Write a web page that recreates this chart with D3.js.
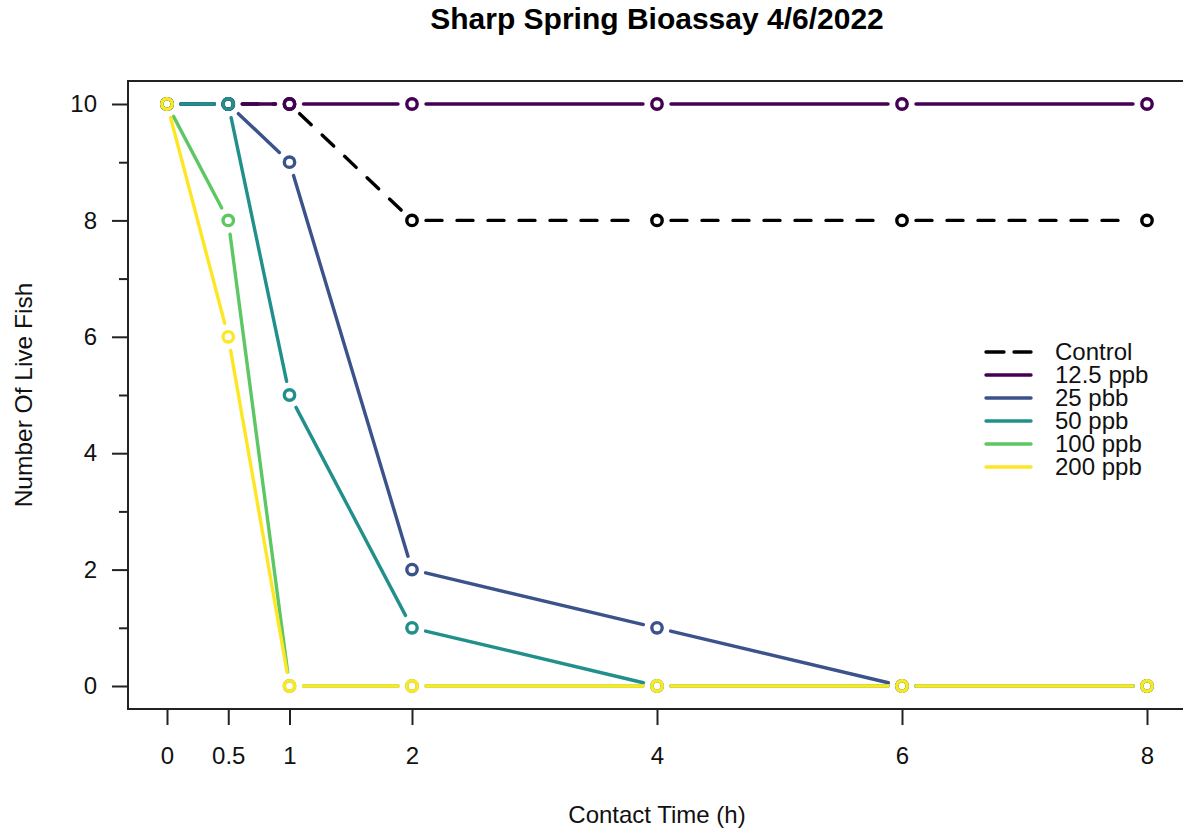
<!DOCTYPE html>
<html>
<head>
<meta charset="utf-8">
<script src="https://d3js.org/d3.v7.min.js"></script>
<style>
  body { margin: 0; background: #fff; }
  svg { display: block; font-family: "Liberation Sans", Arial, sans-serif; }
</style>
</head>
<body>
<div id="chart"></div>
<script>
var svgWidth = 1183;
var svgHeight = 833;

// data
var times = [0, 0.5, 1, 2, 4, 6, 8];
var seriesNames = ["Control", "12.5 ppb", "25 pbb", "50 ppb", "100 ppb", "200 ppb"];
var control = [10, 10, 10, 8, 8, 8, 8];
var ppb12 = [10, 10, 10, 10, 10, 10, 10];
var ppb25 = [10, 10, 9, 2, 1, 0, 0];
var ppb50 = [10, 10, 5, 1, 0, 0, 0];
var ppb100 = [10, 8, 0, 0, 0, 0, 0];
var ppb200 = [10, 6, 0, 0, 0, 0, 0];
var seriesValues = [control, ppb12, ppb25, ppb50, ppb100, ppb200];
var seriesColors = ["#000000", "#440154", "#3B528B", "#21908C", "#5DC863", "#FDE725"];
var yMajorTicks = [0, 2, 4, 6, 8, 10];
var yMinorTicks = [1, 3, 5, 7, 9];

var plot = {left: 128, top: 81, right: 1192, bottom: 709};

var svg = d3.select("#chart")
    .append("svg")
    .attr("width", svgWidth)
    .attr("height", svgHeight);

var xScale = d3.scaleLinear().domain([0, 8]).range([167, 1147]);
var yScale = d3.scaleLinear().domain([0, 10]).range([686, 104]);

// title
svg.append("text")
    .attr("x", 657)
    .attr("y", 29)
    .attr("text-anchor", "middle")
    .attr("font-size", 30)
    .attr("font-weight", "bold")
    .text("Sharp Spring Bioassay 4/6/2022");

// axes
var xAxis = svg.append("g")
    .attr("transform", `translate(0, ${plot.bottom})`)
    .call(d3.axisBottom(xScale).tickValues(times).tickSize(16).tickPadding(22)
        .tickFormat(d => d));
var yAxis = svg.append("g")
    .attr("transform", `translate(${plot.left}, 0)`)
    .call(d3.axisLeft(yScale).tickValues(yMajorTicks).tickSize(16).tickPadding(15));
var yMinor = svg.append("g")
    .attr("transform", `translate(${plot.left}, 0)`)
    .call(d3.axisLeft(yScale).tickValues(yMinorTicks).tickSize(9).tickFormat(""));

[xAxis, yAxis, yMinor].forEach(function(g) {
    g.select(".domain").remove();
    g.attr("font-family", null).attr("font-size", 24);
    g.selectAll(".tick line").attr("stroke", "#222").attr("stroke-width", 2);
    g.selectAll(".tick text").attr("fill", "#111");
});

// frame
svg.append("rect")
    .attr("x", plot.left)
    .attr("y", plot.top)
    .attr("width", plot.right - plot.left)
    .attr("height", plot.bottom - plot.top)
    .attr("fill", "none")
    .attr("stroke", "#222")
    .attr("stroke-width", 2);

// axis titles
svg.append("text")
    .attr("x", 657)
    .attr("y", 823)
    .attr("text-anchor", "middle")
    .attr("font-size", 24)
    .attr("fill", "#111")
    .text("Contact Time (h)");

svg.append("text")
    .attr("transform", `translate(32, 395) rotate(-90)`)
    .attr("text-anchor", "middle")
    .attr("font-size", 24.5)
    .attr("fill", "#111")
    .text("Number Of Live Fish");

// lines with gaps around the points (like type = "b")
var gap = 14;
var lineGroup = svg.append("g");

seriesValues.forEach(function(vals, s) {
    var g = lineGroup.append("g");
    var pts = vals.map((v, i) => [xScale(times[i]), yScale(v)]);
    for (var i = 0; i < pts.length - 1; i++) {
        var p1 = pts[i], p2 = pts[i + 1];
        var dx = p2[0] - p1[0], dy = p2[1] - p1[1];
        var len = Math.sqrt(dx * dx + dy * dy);
        if (len <= 2 * gap) continue;
        var ux = dx / len, uy = dy / len;
        g.append("line")
            .attr("x1", p1[0] + ux * gap)
            .attr("y1", p1[1] + uy * gap)
            .attr("x2", p2[0] - ux * gap)
            .attr("y2", p2[1] - uy * gap)
            .attr("stroke", seriesColors[s])
            .attr("stroke-width", 3.4)
            .attr("stroke-linecap", "round")
            .attr("stroke-dasharray", s === 0 ? "16 15" : null);
    }
    g.selectAll("circle")
        .data(vals)
        .enter()
        .append("circle")
        .attr("cx", (d, i) => xScale(times[i]))
        .attr("cy", d => yScale(d))
        .attr("r", 5.2)
        .attr("fill", "none")
        .attr("stroke", seriesColors[s])
        .attr("stroke-width", 3.4);
});

// legend
var legend = svg.append("g");
seriesNames.forEach(function(name, i) {
    var y = 352 + i * 23;
    legend.append("line")
        .attr("x1", 986)
        .attr("x2", 1031)
        .attr("y1", y)
        .attr("y2", y)
        .attr("stroke", seriesColors[i])
        .attr("stroke-width", 3.4)
        .attr("stroke-linecap", "round")
        .attr("stroke-dasharray", i === 0 ? "18 10" : null);
    legend.append("text")
        .attr("x", 1055)
        .attr("y", y)
        .attr("dy", "0.35em")
        .attr("font-size", 24)
        .attr("fill", "#111")
        .text(name);
});
</script>
</body>
</html>
